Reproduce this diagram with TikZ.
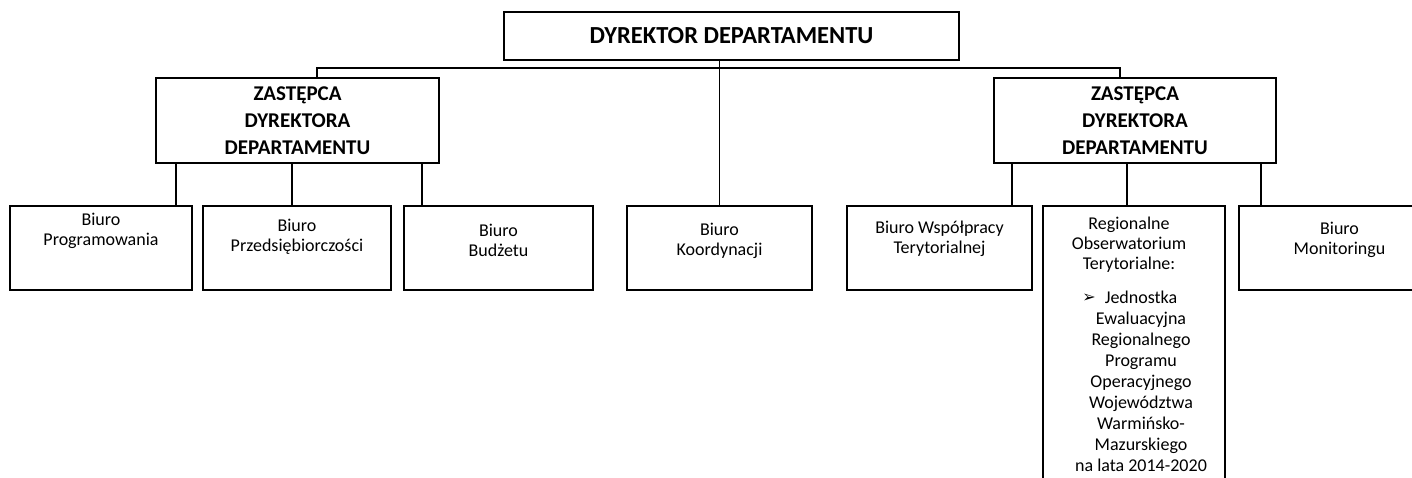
\documentclass[tikz,border=0pt]{standalone}
\usepackage{fontspec}
\setmainfont{Carlito}
\newfontfamily\symfam{DejaVu Sans}
\tikzset{
  box/.style={draw=black, line width=1.5pt, inner sep=0pt, rectangle},
  conn/.style={draw=black, line width=1.4pt},
  toptxt/.style={font=\fontsize{24.5}{27}\selectfont\bfseries},
  deptxt/.style={font=\fontsize{21}{27}\selectfont\bfseries, align=center},
  unittxt/.style={font=\fontsize{18}{20}\selectfont, align=center, inner sep=0pt},
  listtxt/.style={font=\fontsize{18}{21}\selectfont, align=center, inner sep=0pt},
}
\begin{document}
\begin{tikzpicture}[x=1pt,y=-1pt]
\useasboundingbox (0,0) rectangle (1412,477);
\clip (0,0) rectangle (1412,477);
\fill[white] (0,0) rectangle (1412,477);

% top
\node[box, toptxt, minimum width=455pt, minimum height=48pt] (top) at (731.5,36) {DYREKTOR DEPARTAMENTU};

% deputies
\node[box, deptxt, minimum width=283pt, minimum height=85pt] (dep1) at (297.5,120.5) {ZASTĘPCA\\DYREKTORA\\DEPARTAMENTU};
\node[box, deptxt, minimum width=282pt, minimum height=85pt] (dep2) at (1135,120.5) {ZASTĘPCA\\DYREKTORA\\DEPARTAMENTU};

% units
\node[box, minimum width=182pt, minimum height=84pt] (prog) at (101,248) {};
\node[box, minimum width=188pt, minimum height=84pt] (przed) at (297,248) {};
\node[box, minimum width=189pt, minimum height=84pt] (budz) at (498.5,248) {};
\node[box, minimum width=185pt, minimum height=84pt] (koord) at (719.5,248) {};
\node[box, minimum width=185pt, minimum height=84pt] (wsp) at (939.5,248) {};
\node[box, minimum width=182pt, minimum height=300pt] (reg) at (1134,356) {};
\node[box, minimum width=201pt, minimum height=84pt] (mon) at (1339.5,248) {};

% unit texts
\node[unittxt] (progt) at (101,230.5) {Biuro\\Programowania};
\node[unittxt] (przedt) at (297,237) {Biuro\\Przedsiębiorczości};
\node[unittxt] (budzt) at (498.5,240) {Biuro\\Budżetu};
\node[unittxt] (koordt) at (719.5,241) {Biuro\\Koordynacji};
\node[unittxt] (wspt) at (939.5,239) {Biuro Współpracy\\Terytorialnej};
\node[unittxt] (regt) at (1129,245) {Regionalne\\Obserwatorium\\Terytorialne:};
\node[listtxt] (regl) at (1141,381) {Jednostka\\Ewaluacyjna\\Regionalnego\\Programu\\Operacyjnego\\Województwa\\Warmińsko-\\Mazurskiego\\na lata 2014-2020};
\node[font=\symfam\fontsize{16}{16}\selectfont\bfseries, inner sep=0pt] (bul) at (1089,298) {➢};
\node[unittxt] (mont) at (1339.5,240) {Biuro\\Monitoringu};

% connectors
\coordinate (bL) at (317,68);
\coordinate (bR) at (1120,68);
\draw[conn] (koord.north |- top.south) -- (koord.north);
\draw[conn] (bL |- dep1.north) -- (bL) -- (bR) -- (bR |- dep2.north);

\coordinate (x1) at (176,0);
\coordinate (x2) at (292,0);
\coordinate (x3) at (422,0);
\coordinate (x4) at (1012,0);
\coordinate (x5) at (1127,0);
\coordinate (x6) at (1261,0);
\draw[conn] (x1 |- dep1.south) -- (x1 |- prog.north);
\draw[conn] (x2 |- dep1.south) -- (x2 |- przed.north);
\draw[conn] (x3 |- dep1.south) -- (x3 |- budz.north);
\draw[conn] (x4 |- dep2.south) -- (x4 |- wsp.north);
\draw[conn] (x5 |- dep2.south) -- (x5 |- reg.north);
\draw[conn] (x6 |- dep2.south) -- (x6 |- mon.north);
\end{tikzpicture}
\end{document}
